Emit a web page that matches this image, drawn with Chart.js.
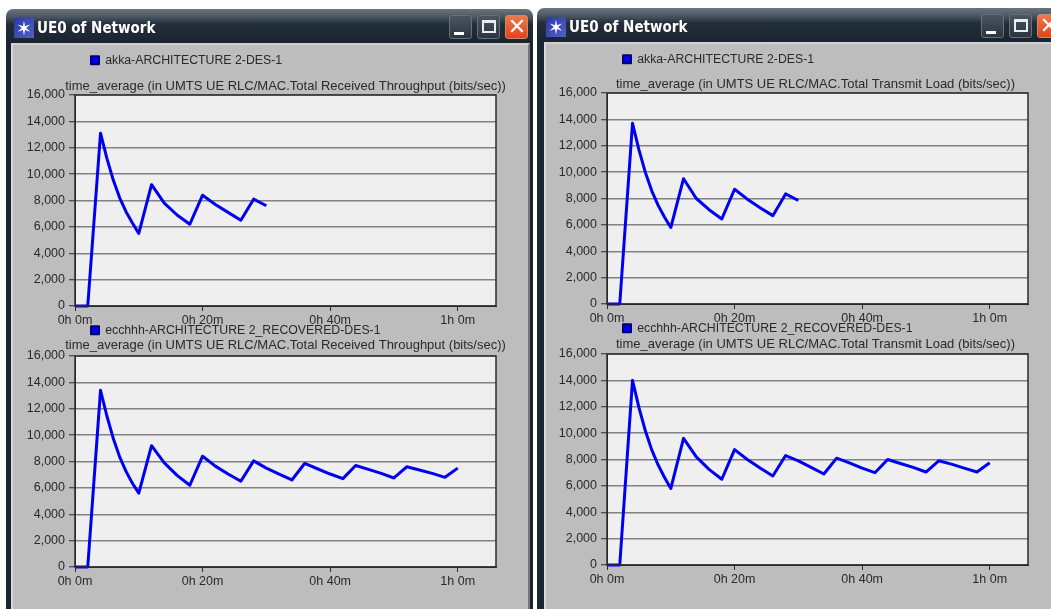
<!DOCTYPE html>
<html><head><meta charset="utf-8">
<script src="https://cdn.jsdelivr.net/npm/chart.js@4/dist/chart.umd.min.js"></script>
<style>
html,body{margin:0;padding:0;background:#fff;width:1051px;height:609px;overflow:hidden;font-family:"Liberation Sans",Arial,sans-serif}
.win{position:absolute;height:640px;box-sizing:border-box;background:linear-gradient(#6a757e 0,#4e5a65 7px,#222e3a 15px,#1a2430 34px);border-radius:7px 7px 0 0;filter:blur(.4px)}
.body{position:absolute;top:34px;bottom:0;background:#bdbdbd;border:2px solid #8f9499;border-left-color:#d8d8d8;border-top-color:#d0d0d0;border-right-color:#777;box-sizing:border-box}
.ttl{position:absolute;top:10px;color:#fff;font:bold 15px "DejaVu Sans Condensed","DejaVu Sans",sans-serif;white-space:nowrap}
.ico{position:absolute;top:9px;width:20px;height:20px;background:linear-gradient(135deg,#2b3a9f,#5060c8);font:bold 19px/20px "DejaVu Sans";color:#fff;text-align:center}
.btn{position:absolute;top:6px;width:23px;height:24px;border-radius:3px;box-sizing:border-box;border:1px solid #66717b;background:linear-gradient(#4a555f,#2a3540)}
.btn.x{background:linear-gradient(#ee7a4c,#e0431a);border-color:#c98a70}
.btn i{position:absolute;display:block;font-style:normal}
.mn i{left:4px;bottom:3px;width:10px;height:3px;background:#fff}
.mx i{left:4px;top:4px;width:14px;height:13px;border:2px solid #e8ecf0;border-top-width:3px;box-sizing:border-box}
.x i{left:1px;top:0;width:20px;height:22px;color:#fff;font:bold 22px/22px "DejaVu Sans";text-align:center}
canvas{position:absolute;filter:blur(.4px)}
</style></head><body>
<div class="win" style="left:6px;top:9px;width:527px">
 <div class="ico" style="left:8px">✶</div><div class="ttl" style="left:31px">UE0 of Network</div>
 <div class="btn mn" style="left:443px"><i></i></div><div class="btn mx" style="left:471px"><i></i></div><div class="btn x" style="left:499px"><i>✕</i></div>
 <div class="body" style="left:5px;right:3px"></div>
</div>
<div class="win" style="left:537px;top:8px;width:540px">
 <div class="ico" style="left:9px">✶</div><div class="ttl" style="left:32px">UE0 of Network</div>
 <div class="btn mn" style="left:444px"><i></i></div><div class="btn mx" style="left:472px"><i></i></div><div class="btn x" style="left:500px"><i>✕</i></div>
 <div class="body" style="left:7px;right:0"></div>
</div>
<canvas id="c0"></canvas><canvas id="c1"></canvas><canvas id="c2"></canvas><canvas id="c3"></canvas>
<script>
const minutesTop = [0,2,4,5,6,7,8,9,10,12,14,16,18,20,22,24,26,28,30];
const minutesBottom = [0,2,4,5,6,7,8,9,10,12,14,16,18,20,22,24,26,28,30,32,34,36,38,40,42,44,46,48,50,52,54,56,58,60];
const throughputAkka = [0,0,13100,11200,9550,8200,7150,6300,5500,9200,7800,6900,6200,8400,7700,7100,6500,8100,7600];
const throughputEcc = [0,0,13400,11450,9750,8350,7250,6350,5600,9200,7900,6950,6200,8400,7650,7050,6500,8050,7500,7050,6600,7850,7450,7050,6700,7700,7400,7100,6750,7600,7350,7100,6800,7500];
const loadAkka = [0,0,13700,11700,10000,8600,7500,6600,5800,9500,8000,7150,6450,8700,7950,7300,6700,8350,7850];
const loadEcc = [0,0,14000,11950,10200,8750,7600,6650,5800,9600,8200,7250,6500,8750,8000,7350,6750,8300,7900,7400,6900,8100,7750,7350,7000,8000,7700,7400,7050,7900,7650,7350,7050,7750];
const xTickLabels = ['0h 0m','0h 20m','0h 40m','1h 0m'];
const nameAkka = 'akka-ARCHITECTURE 2-DES-1';
const nameEcc = 'ecchhh-ARCHITECTURE 2_RECOVERED-DES-1';
const titleThroughput = 'time_average (in UMTS UE RLC/MAC.Total Received Throughput (bits/sec))';
const titleLoad = 'time_average (in UMTS UE RLC/MAC.Total Transmit Load (bits/sec))';

const FAMILY = '"Liberation Sans",Arial,sans-serif';
const INK = '#2a2a2a';
const PAD_L = 90, PAD_TOP = 50, PLOT_W = 421, PLOT_H = 211, PAD_R = 40, PAD_B = 36;
const TITLE_LH = 15, TITLE_SIZE = 13;

const framePlugin = {
  id:'frame',
  beforeDraw(c){
    const a=c.chartArea,g=c.ctx; g.save(); g.fillStyle='#efefef'; g.fillRect(a.left,a.top,a.width,a.height); g.restore();
  },
  afterDraw(c){
    const a=c.chartArea,g=c.ctx; g.save(); g.strokeStyle='#2b2b2b'; g.lineWidth=1.5; g.strokeRect(a.left,a.top,a.width,a.height); g.restore();
  },
  afterLayout(c){
    const o=c.options.plugins.frame, a=c.chartArea;
    c.legend.left=a.left+o.legendDx; c.legend.top=a.top+o.legendDy;
    const t=c.titleBlock; t.top=a.top+o.titleDy; t.left=a.left-30+o.titleDx; t.right=a.right+30+o.titleDx; t.width=a.width+60;
  }
};

function panel(id,plotLeft,plotTop,xs,ys,name,title,titleDx,titleDy,legendDy){
  const cv=document.getElementById(id);
  cv.style.left=(plotLeft-PAD_L)+'px'; cv.style.top=(plotTop-PAD_TOP)+'px';
  new Chart(cv,{
    type:'line',
    data:{datasets:[{label:name,data:xs.map((x,i)=>({x,y:ys[i]})),borderColor:'#0000f0',backgroundColor:'#0000f0',borderWidth:3,pointRadius:0,tension:0,borderJoinStyle:'round',clip:false}]},
    options:{
      responsive:false,animation:false,devicePixelRatio:1,
      layout:{padding:{top:PAD_TOP-TITLE_LH,right:PAD_R,bottom:0,left:0}},
      scales:{
        x:{type:'linear',min:0,max:66,
          grid:{drawOnChartArea:false,drawTicks:true,tickLength:5,color:'#2b2b2b',lineWidth:1},
          border:{color:'#2b2b2b'},
          afterFit(s){s.height=PAD_B;},
          ticks:{stepSize:20,includeBounds:false,maxRotation:0,color:INK,font:{family:FAMILY,size:12.5},padding:2,callback:(v,i)=>xTickLabels[i]}},
        y:{min:0,max:16000,
          grid:{color:'#828282',lineWidth:1.5,tickLength:6,tickColor:'#2b2b2b',tickWidth:1},
          border:{color:'#2b2b2b'},
          afterFit(s){s.width=PAD_L;},
          ticks:{stepSize:2000,color:INK,font:{family:FAMILY,size:12.5},padding:4,callback:v=>v.toLocaleString('en-US')}}
      },
      plugins:{
        frame:{legendDx:12,legendDy:legendDy,titleDx:titleDx,titleDy:titleDy},
        legend:{position:'chartArea',align:'start',labels:{boxWidth:8,boxHeight:8,padding:4,color:INK,font:{family:FAMILY,size:12.3},
          generateLabels(ch){return Chart.defaults.plugins.legend.labels.generateLabels(ch).map(l=>({...l,lineWidth:2,strokeStyle:'#000070'}));}}},
        title:{display:true,text:title,color:INK,font:{family:FAMILY,size:TITLE_SIZE,weight:'normal',lineHeight:TITLE_LH/TITLE_SIZE},padding:0},
        tooltip:{enabled:false}
      }
    },
    plugins:[framePlugin]
  });
}
for(const id of ['c0','c1','c2','c3']){const c=document.getElementById(id);c.width=PAD_L+PLOT_W+PAD_R;c.height=PAD_TOP+PLOT_H+PAD_B;}
panel('c0',75,95,minutesTop,throughputAkka,nameAkka,titleThroughput,0,-16,-45);
panel('c1',607,93,minutesTop,loadAkka,nameAkka,titleLoad,-2,-16,-44);
panel('c2',75,356,minutesBottom,throughputEcc,nameEcc,titleThroughput,0,-18,-36);
panel('c3',607,354,minutesBottom,loadEcc,nameEcc,titleLoad,-2,-17,-36);
</script>
</body></html>
